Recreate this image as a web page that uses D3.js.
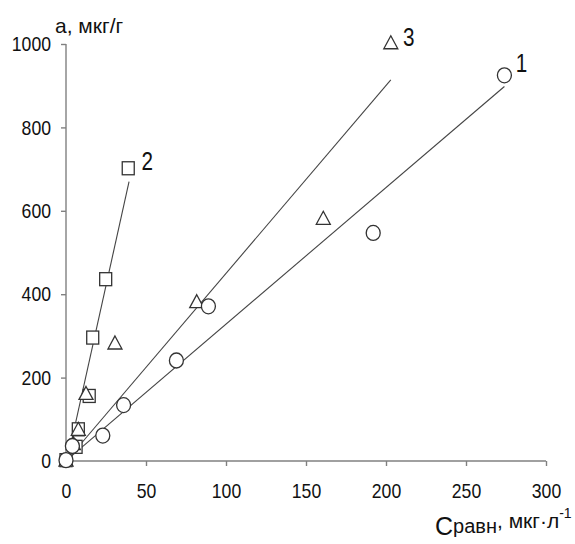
<!DOCTYPE html>
<html>
<head>
<meta charset="utf-8">
<script src="https://cdn.jsdelivr.net/npm/d3@7"></script>
<style>
  body { margin: 0; background: #fff; }
  svg { display: block; }
</style>
</head>
<body>
<div id="chart"></div>
<script>
// series 1 - circles
var s1x = [0, 4, 23, 36, 69, 89, 192, 274];
var s1y = [2, 36, 61, 134, 241, 371, 547, 925];
// series 2 - squares
var s2x = [0, 6.3, 7.7, 14.5, 16.7, 24.8, 38.9];
var s2y = [2, 34, 76, 156, 296, 436, 702];
// series 3 - triangles
var s3x = [0, 4.6, 7.7, 12.5, 30.6, 81.7, 160.8, 203];
var s3y = [2, 42, 76, 162, 283, 382, 582, 1003];
// fitted lines (two ends each)
var line1 = [[1, 4], [274, 898]];
var line2 = [[1, 5], [39.4, 670]];
var line3 = [[1.5, 6], [203, 914]];
var xTicks = [0, 50, 100, 150, 200, 250, 300];
var yTicks = [0, 200, 400, 600, 800, 1000];
var seriesNames = ["1", "2", "3"];

var width = 575, height = 544;
var svg = d3.select("#chart").append("svg")
  .attr("width", width).attr("height", height);

var x = d3.scaleLinear().domain([0, 300]).range([66, 546]);
var y = d3.scaleLinear().domain([0, 1000]).range([461, 44]);

var axisColor = "#808080";
var markColor = "#333";
var font = "Arial, 'Liberation Sans', sans-serif";

// narrow digits like the original (Arial Narrow look)
function narrow(sel, perChar) {
  sel.each(function() {
    var t = d3.select(this);
    t.attr("textLength", t.text().length * perChar).attr("lengthAdjust", "spacingAndGlyphs");
  });
}

// X axis
var gx = svg.append("g")
  .attr("transform", "translate(0," + y(0) + ")")
  .call(d3.axisBottom(x).tickValues(xTicks).tickSize(5).tickPadding(17).tickFormat(d3.format("d")));
// Y axis
var gy = svg.append("g")
  .attr("transform", "translate(" + x(0) + ",0)")
  .call(d3.axisLeft(y).tickValues(yTicks).tickSize(5).tickPadding(10).tickFormat(d3.format("d")));

[gx, gy].forEach(function(g) {
  g.select(".domain").attr("stroke", axisColor).attr("stroke-width", 1.4);
  g.selectAll(".tick line").attr("stroke", axisColor).attr("stroke-width", 1.4);
  g.selectAll(".tick text")
    .attr("fill", "#111")
    .style("font-family", font)
    .style("font-size", "21px")
    .call(narrow, 9.8);
});
gx.select(".domain").attr("d", "M" + x(0) + ",0H" + x(300));
gy.select(".domain").attr("d", "M0," + y(0) + "V" + y(1000));

// regression lines
var lineGen = d3.line().x(function(d) { return x(d[0]); }).y(function(d) { return y(d[1]); });
svg.append("g").selectAll("path")
  .data([line1, line2, line3])
  .enter().append("path")
  .attr("d", lineGen)
  .attr("fill", "none")
  .attr("stroke", "#444")
  .attr("stroke-width", 1.1);

// markers
var s1 = s1x.map(function(v, i) { return [v, s1y[i]]; });
var s2 = s2x.map(function(v, i) { return [v, s2y[i]]; });
var s3 = s3x.map(function(v, i) { return [v, s3y[i]]; });

svg.append("g").selectAll("rect")
  .data(s2).enter().append("rect")
  .attr("x", function(d) { return x(d[0]) - 6; })
  .attr("y", function(d) { return y(d[1]) - 6.5; })
  .attr("width", 12).attr("height", 13)
  .attr("fill", "#fff").attr("stroke", markColor).attr("stroke-width", 1.3);

svg.append("g").selectAll("path")
  .data(s3).enter().append("path")
  .attr("d", function(d) {
    var cx = x(d[0]), cy = y(d[1]);
    return "M" + cx + "," + (cy - 7) + "L" + (cx + 7) + "," + (cy + 6) + "L" + (cx - 7) + "," + (cy + 6) + "Z";
  })
  .attr("fill", "#fff").attr("stroke", markColor).attr("stroke-width", 1.3);

svg.append("g").selectAll("ellipse")
  .data(s1).enter().append("ellipse")
  .attr("cx", function(d) { return x(d[0]); })
  .attr("cy", function(d) { return y(d[1]); })
  .attr("rx", 7).attr("ry", 7.5)
  .attr("fill", "#fff").attr("stroke", markColor).attr("stroke-width", 1.3);

// series labels, placed next to the last point of each series
var lastPts = [s1[s1.length - 1], s2[s2.length - 1], s3[s3.length - 1]];
var labelOffsets = [[17, -3], [19, 2], [18, 3]];
svg.append("g").selectAll("text")
  .data(seriesNames).enter().append("text")
  .attr("x", function(d, i) { return x(lastPts[i][0]) + labelOffsets[i][0]; })
  .attr("y", function(d, i) { return y(lastPts[i][1]) + labelOffsets[i][1]; })
  .attr("text-anchor", "middle")
  .style("font-family", font)
  .style("font-size", "25px")
  .attr("fill", "#111")
  .text(function(d) { return d; })
  .call(narrow, 11.5);

// axis titles
svg.append("text")
  .attr("x", 55).attr("y", 33)
  .style("font-family", font)
  .style("font-size", "21px")
  .attr("fill", "#111")
  .text("а, мкг/г");

var xt = svg.append("text")
  .attr("x", 435).attr("y", 535)
  .style("font-family", font)
  .attr("fill", "#111");
xt.append("tspan").style("font-size", "25px").text("C");
xt.append("tspan").style("font-size", "20px").attr("dy", -2).text("равн");
xt.append("tspan").style("font-size", "21px").attr("dy", -5).text(", мкг·л");
xt.append("tspan").style("font-size", "14px").attr("dy", -10).text("-1");
</script>
</body>
</html>
